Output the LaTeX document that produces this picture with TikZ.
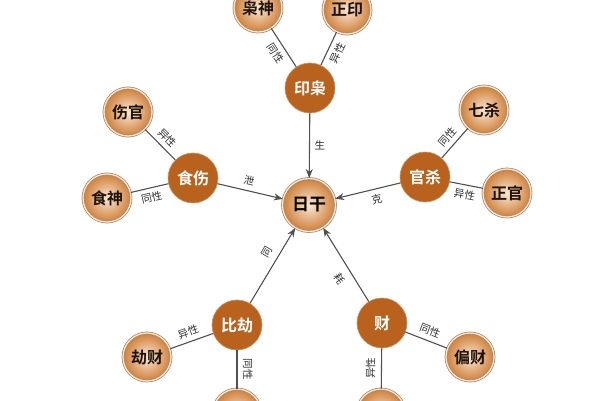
\documentclass[tikz,border=0pt]{standalone}
\usepackage{fontspec}
\newfontfamily\cjk{Noto Sans CJK SC}
\newfontfamily\cjkb{Noto Sans CJK SC Bold}
\usetikzlibrary{arrows.meta}
\definecolor{brownfill}{HTML}{B8621E}
\definecolor{peachin}{HTML}{FBE7D4}
\definecolor{peachout}{HTML}{CF7F38}
\definecolor{ringcol}{HTML}{B58A66}
\definecolor{linecol}{HTML}{505050}
\definecolor{lblcol}{HTML}{303030}
\tikzset{
  outer/.style={circle, minimum size=48pt, inner sep=0pt, inner color=peachin, outer color=peachout,
    draw=ringcol, line width=0.8pt, double=peachin!80!white, double distance=1.2pt,
    font=\cjkb\fontsize{16}{16}\selectfont, text=black!85!brown},
  group/.style={circle, minimum size=50pt, inner sep=0pt, fill=brownfill, draw=brownfill!70!white, line width=0.6pt,
    font=\cjkb\fontsize{16}{16}\selectfont, text=white},
  center/.style={circle, minimum size=53pt, inner sep=0pt, inner color=peachin, outer color=peachout!90!brown,
    draw=ringcol, line width=0.8pt, double=peachin!80!white, double distance=1.2pt,
    font=\cjkb\fontsize{17}{17}\selectfont, text=black},
  link/.style={draw=linecol, line width=1.1pt},
  arr/.style={draw=linecol, line width=1.1pt, -{Stealth[length=9pt,width=7pt]}},
  rarr/.style={draw=linecol, line width=1.1pt, {Stealth[length=9pt,width=7pt]}-},
  lbl/.style={font=\cjk\fontsize{10.5}{10.5}\selectfont, text=lblcol, inner sep=0.5pt},
}
\begin{document}
\begin{tikzpicture}[x=1pt,y=1pt]
\useasboundingbox (0,0) rectangle (600,400);
\fill[white] (0,0) rectangle (600,400);
\begin{scope}
\clip (0,0) rectangle (600,400);
% center
\node[center] (rg) at (309,195) {日干};
% groups
\node[group] (yx) at (310,312) {印枭};
\node[group] (ss) at (193,222) {食伤};
\node[group] (gs) at (425,223) {官杀};
\node[group] (bj) at (237,75) {比劫};
\node[group] (cai) at (382,77) {财};
% outer
\node[outer] (xs) at (258,392) {枭神};
\node[outer] (zy) at (347,390) {正印};
\node[outer] (sg) at (128,288) {伤官};
\node[outer] (sh) at (107,202) {食神};
\node[outer] (qs) at (484,290) {七杀};
\node[outer] (zg) at (507,207) {正官};
\node[outer] (jc) at (147,43) {劫财};
\node[outer] (bx) at (237,-13) {};
\node[outer] (pc) at (470,43) {偏财};
\node[outer] (pb) at (381,-13) {};
% links
\draw[link] (xs) -- node[lbl, sloped, below=4pt] {同性} (yx);
\draw[link] (yx) -- node[lbl, sloped, below=4pt] {异性} (zy);
\draw[link] (sg) -- node[lbl, sloped, above=4pt] {异性} (ss);
\draw[link] (sh) -- node[lbl, sloped, below=4pt] {同性} (ss);
\draw[link] (gs) -- node[lbl, sloped, above=4pt] {同性} (qs);
\draw[link] (gs) -- node[lbl, sloped, below=4pt] {异性} (zg);
\draw[link] (jc) -- node[lbl, sloped, above=4pt] {异性} (bj);
\draw[link] (bj) -- node[lbl, sloped, above=5pt] {同性} (bx);
\draw[link] (cai) -- node[lbl, sloped, above=4pt] {同性} (pc);
\draw[link] (pb) -- node[lbl, sloped, above=5pt] {异性} (cai);
% arrows
\draw[arr] (yx) -- node[lbl, right=4pt] {生} (rg);
\draw[arr] (ss) -- node[lbl, sloped, above=4pt, pos=0.45] {泄} (rg);
\draw[rarr] (rg) -- node[lbl, sloped, below=5pt, pos=0.6] {克} (gs);
\draw[arr] (bj) -- node[lbl, sloped, above=6pt, pos=0.6] {同} (rg);
\draw[rarr] (rg) -- node[lbl, sloped, below=7pt, pos=0.6] {耗} (cai);
\end{scope}
\end{tikzpicture}
\end{document}
